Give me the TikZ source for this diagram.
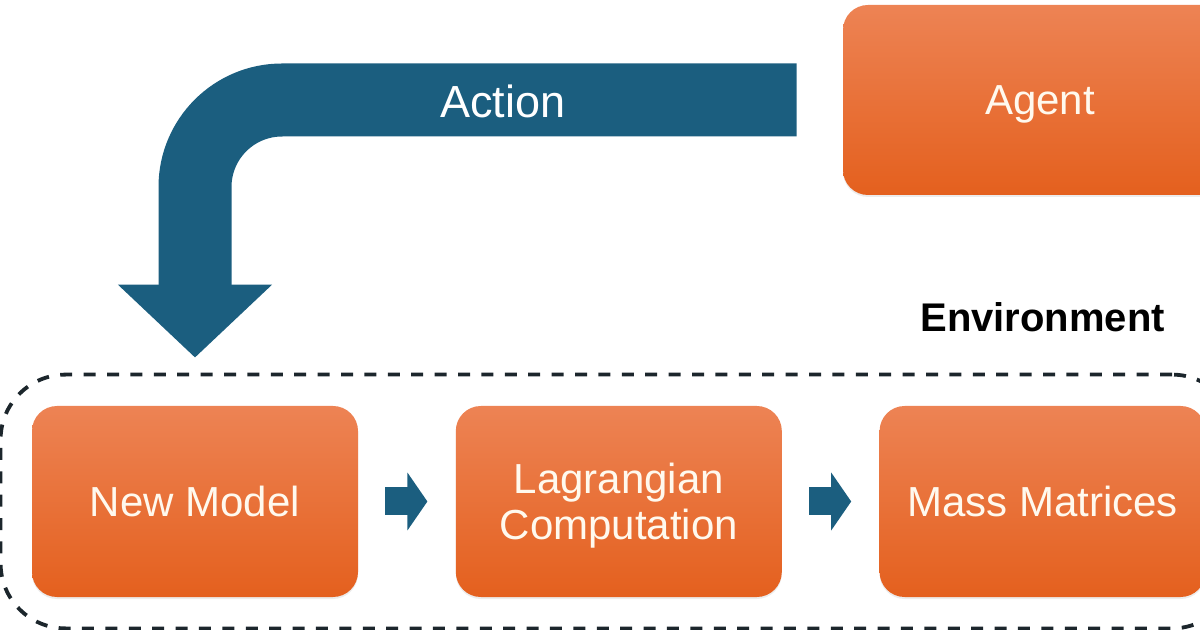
\documentclass[tikz,border=0pt]{standalone}
\usepackage{fontspec}
\setmainfont{Liberation Sans}
\usetikzlibrary{positioning,fit,arrows.meta,shadows}

\definecolor{actblue}{RGB}{27,94,127}
\definecolor{boxtop}{RGB}{237,131,84}
\definecolor{boxbot}{RGB}{228,96,30}
\definecolor{boxtext}{RGB}{255,249,238}
\definecolor{envline}{RGB}{28,38,44}

\tikzset{
  stagebox/.style={rectangle, rounded corners=12.5pt, top color=boxtop, bottom color=boxbot,
    minimum width=163pt, minimum height=95.5pt, text=boxtext, align=center,
    font=\fontsize{21}{23}\selectfont, text depth=0pt,
    drop shadow={opacity=0.15, shadow xshift=0pt, shadow yshift=-1pt}},
  steparrow/.style={draw=actblue, line width=14pt, -{Triangle[length=10pt,width=28.5pt]},
    shorten <=13.5pt, shorten >=14pt},
  actionarrow/.style={draw=actblue, line width=36.5pt, rounded corners=43.5pt,
    -{Triangle[length=36.5pt,width=75pt]}},
  envframe/.style={draw=envline, line width=1.9pt, dash pattern=on 6pt off 5.7pt,
    rounded corners=32.5pt, inner sep=15.5pt}
}

\begin{document}
\begin{tikzpicture}[x=0.5pt,y=-0.5pt]
\useasboundingbox (0,0) rectangle (1200,630);
\clip (0,0) rectangle (1200,630);

% Environment stages
\node[stagebox] (model) at (195,501.5) {New Model};
\node[stagebox, right=48.5pt of model] (lagr) {Lagrangian\\Computation};
\node[stagebox, right=48.5pt of lagr] (mass) {Mass Matrices};

% Arrows between stages
\draw[steparrow] (model) -- (lagr);
\draw[steparrow] (lagr) -- (mass);

% Environment frame
\node[envframe, fit=(model) (mass)] (env) {};
\node[font=\fontsize{20}{22}\selectfont\bfseries] (envlabel)
  at ([yshift=27.5pt]env.north -| mass.north) {Environment};

% Agent
\node[stagebox, minimum width=197pt, minimum height=95pt] (agent) at (1040,100) {Agent};

% Action
\draw[actionarrow] ([xshift=-23pt]agent.west) -| ([yshift=24pt]model.north);
\node[text=white, font=\fontsize{22.5}{24}\selectfont] (actlabel) at (503,101) {Action};
\end{tikzpicture}
\end{document}
